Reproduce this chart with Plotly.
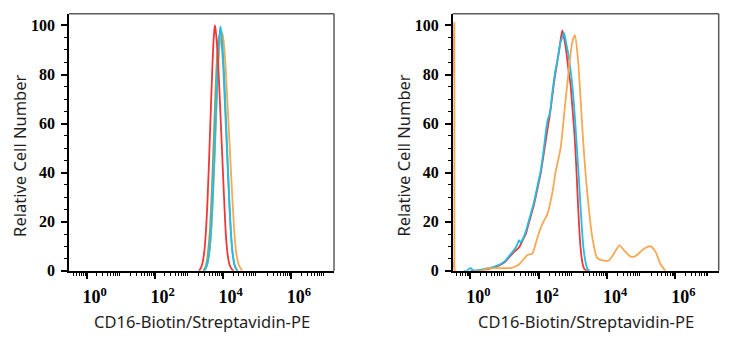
import plotly.graph_objects as go

# ---------------- data (x as log10 of intensity, y = relative cell number) ----------------
# Left panel
L_red_logx = [3.30,3.35,3.40,3.45,3.50,3.55,3.60,3.65,3.70,3.74,3.77,3.80,3.85,3.90,3.95,4.00,4.05,4.10,4.15,4.20,4.25,4.32]
L_red_y    = [0,1,3,7,15,28,46,66,85,96,100,97,88,74,58,42,26,13,6,2.5,1,0]

L_olive_logx = [3.42,3.47,3.52,3.57,3.62,3.67,3.72,3.77,3.82,3.87,3.91,3.95,4.00,4.05,4.10,4.15,4.20,4.25,4.30,4.36,4.44]
L_olive_y    = [0,1,3,8,16,30,48,67,84,94,96,94,86,72,56,40,25,13,6,2,0]

L_orange_logx = [3.45,3.50,3.55,3.60,3.65,3.70,3.75,3.80,3.85,3.90,3.94,3.97,4.00,4.05,4.10,4.15,4.20,4.25,4.30,4.35,4.40,4.47,4.57]
L_orange_y    = [0,1,3,7,14,26,42,60,78,91,96,97.5,96,90,79,65,52,38,25,14,7,2.5,0]

L_cyan_logx = [3.45,3.50,3.55,3.60,3.65,3.70,3.75,3.80,3.85,3.90,3.93,3.96,4.00,4.05,4.10,4.15,4.20,4.25,4.30,4.35,4.42]
L_cyan_y    = [0,1,3,7,15,28,45,64,82,95,99.5,97,90,77,60,43,27,14,6,2,0]

# Right panel
R_red_logx = [0.0,0.3,0.6,0.84,1.0,1.13,1.3,1.42,1.55,1.62,1.72,1.86,2.0,2.06,2.15,2.25,2.35,2.45,2.54,2.60,2.65,2.69,2.74,2.80,2.87,2.93,3.00,3.05,3.10,3.15,3.20,3.25,3.30,3.35,3.45]
R_red_y    = [0,0.3,1,2.2,3.5,5.5,8,9.5,13,15,20,27,36,40,48,57,66,77,85,90,95,98,95,90,82,76,64,55,42,27,14,6,2,0.5,0]

R_cyan_logx = [-0.2,-0.1,0.0,0.1,0.3,0.6,0.84,1.0,1.13,1.3,1.38,1.42,1.47,1.55,1.62,1.72,1.86,2.0,2.06,2.15,2.22,2.27,2.32,2.40,2.48,2.55,2.62,2.68,2.74,2.80,2.87,2.93,2.98,3.03,3.08,3.14,3.20,3.26,3.32,3.38,3.43,3.50]
R_cyan_y    = [0,0,1.2,0,0.5,1.3,2.5,3.8,6,9,11,12.5,11.5,13.5,16,21,28,37,41,50,58,62,64,73,81,86,92,95,97,93,88,82,76,68,58,45,32,18,8,3,0.8,0]

R_orange_logx = [-0.47,-0.47,-0.44,0.3,0.5,1.2,1.42,1.67,1.81,1.96,2.10,2.25,2.40,2.49,2.64,2.76,2.88,2.98,3.06,3.15,3.23,3.30,3.42,3.57,3.71,3.91,4.05,4.20,4.36,4.49,4.69,4.79,4.88,5.08,5.28,5.42,5.57,5.71]
R_orange_y    = [0,101,0,0,1,1.2,2.6,6.5,7,13.5,19,23,32,40,50,66,82,93,96,86,69,53,32,13.5,5.3,4.2,4.2,7,10.4,8.5,5.8,5.8,6.5,9,10,7.8,2.6,0]

x_title = "CD16-Biotin/Streptavidin-PE"
y_title = "Relative Cell Number"
labelled_decades = [0, 2, 4, 6]
decade_labels = ["10<sup>0</sup>", "10<sup>2</sup>", "10<sup>4</sup>", "10<sup>6</sup>"]
unlabelled_decades = [1, 3, 5, 7]

RED = "rgb(240,55,55)"
CYAN = "rgb(30,190,235)"
ORANGE = "rgb(246,168,82)"
OLIVE = "rgb(135,160,110)"

fig = go.Figure()

def add(logx, y, color, xa, ya, smooth):
    fig.add_trace(go.Scatter(
        x=[10 ** v for v in logx], y=y, mode="lines",
        line=dict(color=color, width=1.8, shape="spline", smoothing=smooth),
        xaxis=xa, yaxis=ya, showlegend=False, hoverinfo="skip"))

add(L_olive_logx, L_olive_y, OLIVE, "x", "y", 1.0)
add(L_orange_logx, L_orange_y, ORANGE, "x", "y", 1.0)
add(L_cyan_logx, L_cyan_y, CYAN, "x", "y", 1.0)
add(L_red_logx, L_red_y, RED, "x", "y", 1.0)

add(R_red_logx, R_red_y, RED, "x2", "y2", 0.6)
add(R_cyan_logx, R_cyan_y, CYAN, "x2", "y2", 0.6)
add(R_orange_logx, R_orange_y, ORANGE, "x2", "y2", 0.6)

minor_vals = [m * 10 ** k for k in range(-1, 8) for m in range(2, 10)]
XRANGE = [-0.52, 7.27]

tick_font_x = dict(family="Liberation Serif", size=18, color="black", weight="bold")
tick_font_y = dict(family="Liberation Serif", size=16, color="black", weight="bold")

xax = dict(type="log", range=XRANGE,
           tickmode="array", tickvals=[10 ** d for d in labelled_decades], ticktext=decade_labels,
           ticks="outside", ticklen=6, tickwidth=1.5, tickcolor="black",
           minor=dict(tickmode="array", tickvals=minor_vals, ticks="outside", ticklen=3,
                      tickwidth=1, tickcolor="black"),
           showline=True, linecolor="black", linewidth=1.5,
           showgrid=False, zeroline=False,
           tickfont=tick_font_x,
           ticklabelshift=8, ticklabelstandoff=3)
# overlay axis only carrying the unlabelled decade ticks
xax_odd = dict(type="log", range=XRANGE, side="bottom",
               tickmode="array", tickvals=[10 ** d for d in unlabelled_decades],
               ticks="outside", ticklen=6, tickwidth=1.5, tickcolor="black",
               showticklabels=False, showline=False, showgrid=False, zeroline=False)
yax = dict(range=[0, 104.8], tickmode="linear", tick0=0, dtick=20,
           ticks="outside", ticklen=6, tickwidth=1.5, tickcolor="black",
           minor=dict(dtick=5, ticks="outside", ticklen=3, tickwidth=1, tickcolor="black"),
           showline=True, linecolor="black", linewidth=1.5,
           showgrid=False, zeroline=False,
           tickfont=tick_font_y,
           ticklabelstandoff=3)

xd1 = [69 / 734, 334 / 734]
xd2 = [452.7 / 734, 718.7 / 734]
yd = [1 - 278 / 350, 1 - 14 / 350]

fig.update_layout(
    width=734, height=350, margin=dict(l=0, r=0, t=0, b=0),
    paper_bgcolor="white", plot_bgcolor="white",
    xaxis=dict(domain=xd1, anchor="y", **xax),
    yaxis=dict(domain=yd, anchor="x", **yax),
    xaxis2=dict(domain=xd2, anchor="y2", **xax),
    yaxis2=dict(domain=yd, anchor="x2", **yax),
    xaxis3=dict(overlaying="x", anchor="y", **xax_odd),
    xaxis4=dict(overlaying="x2", anchor="y2", **xax_odd),
)

# top/right frame lines (gray)
for xr, yr in [("x domain", "y domain"), ("x2 domain", "y2 domain")]:
    fig.add_shape(type="line", xref=xr, yref=yr, x0=0, x1=1, y0=1, y1=1,
                  line=dict(color="rgb(90,90,90)", width=1.5))
    fig.add_shape(type="line", xref=xr, yref=yr, x0=1, x1=1, y0=0, y1=1,
                  line=dict(color="rgb(90,90,90)", width=1.5))

tfont = dict(family="Noto Sans", size=16.5, color="rgb(30,30,30)")
for xd in (xd1, xd2):
    fig.add_annotation(text=x_title, xref="paper", yref="paper",
                       x=(xd[0] + xd[1]) / 2, y=1 - 330 / 350,
                       xanchor="center", yanchor="middle", showarrow=False, font=tfont)
    fig.add_annotation(text=y_title, xref="paper", yref="paper",
                       x=(xd[0] * 734 - 49) / 734, y=1 - 160 / 350, textangle=-90,
                       xanchor="center", yanchor="middle", showarrow=False, font=tfont)

fig.write_html("out.html")
